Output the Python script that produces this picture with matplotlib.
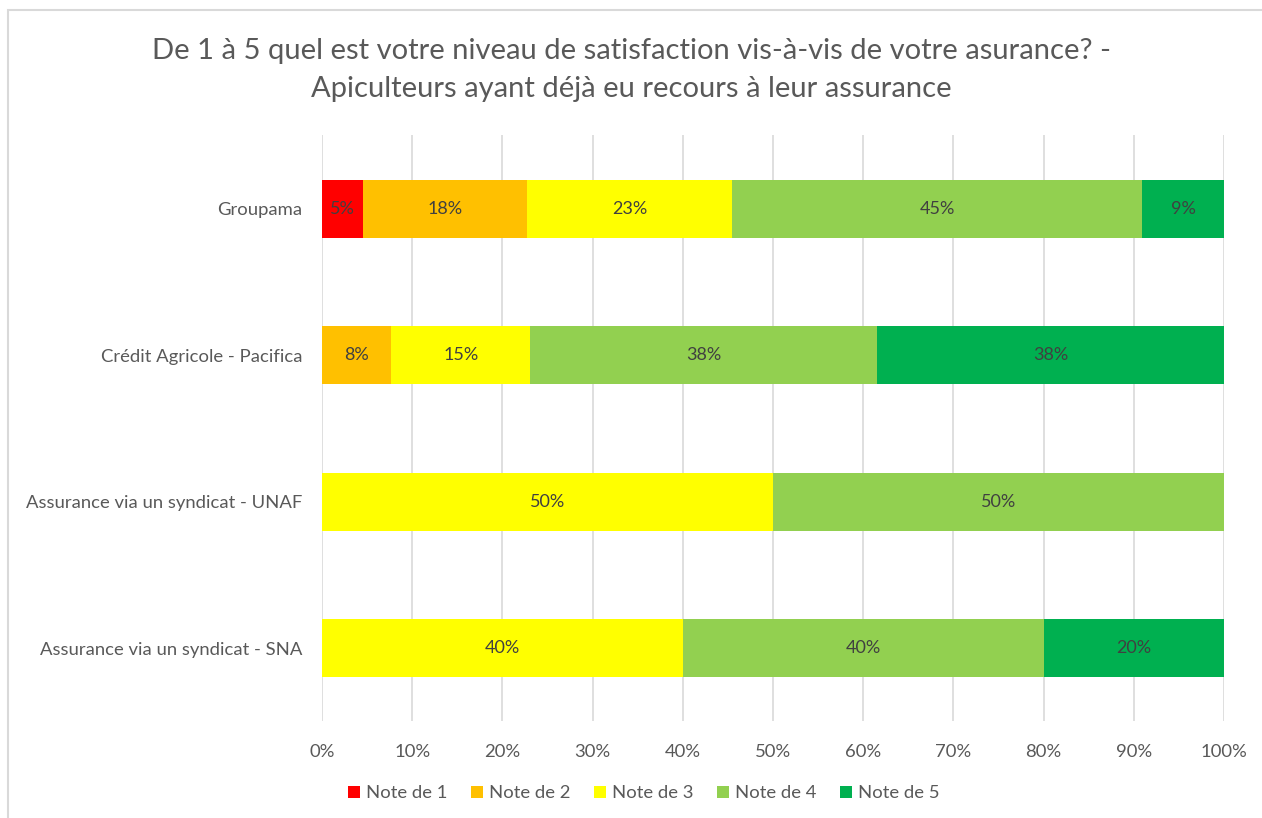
import numpy as np
import matplotlib.pyplot as plt
from matplotlib.patches import Rectangle

# Données (% par assureur et par note)
assureurs = ['Groupama', 'Crédit Agricole - Pacifica',
             'Assurance via un syndicat - UNAF', 'Assurance via un syndicat - SNA']
notes = ['Note de 1', 'Note de 2', 'Note de 3', 'Note de 4', 'Note de 5']
note1 = [4.55, 0, 0, 0]
note2 = [18.18, 7.69, 0, 0]
note3 = [22.73, 15.38, 50.0, 40.0]
note4 = [45.45, 38.46, 50.0, 40.0]
note5 = [9.09, 38.46, 0, 20.0]
couleurs = ['#ff0000', '#ffc000', '#ffff00', '#92d050', '#00b050']

gris = '#595959'
plt.rcParams['font.family'] = ['Lato', 'DejaVu Sans']

fig = plt.figure(figsize=(12.62, 8.18), dpi=100)
ax = fig.add_axes([0.2552, 0.118, 0.7147, 0.7164])

y = np.arange(len(assureurs))
gauche = np.zeros(len(assureurs))
for nom, vals, c in zip(notes, [note1, note2, note3, note4, note5], couleurs):
    vals = np.array(vals)
    ax.barh(y, vals, left=gauche, height=0.395, color=c, label=nom, zorder=3)
    for yi, v, g in zip(y, vals, gauche):
        if v > 0:
            ax.text(g + v / 2, yi, f'{v:.0f}%', ha='center', va='center',
                    fontsize=13, color='#404040', zorder=4)
    gauche += vals

ax.set_xlim(0, 100)
ax.set_ylim(3.5, -0.5)
ax.set_yticks(y)
ax.set_yticklabels(assureurs, fontsize=13.3, color=gris)
ax.set_xticks(np.arange(0, 101, 10))
ax.set_xticklabels([f'{t}%' for t in range(0, 101, 10)], fontsize=13.3, color=gris)
ax.tick_params(length=0)
ax.tick_params(axis='x', pad=16)
ax.tick_params(axis='y', pad=14)
ax.grid(axis='x', color='#d9d9d9', linewidth=1.2, zorder=0)
for s in ax.spines.values():
    s.set_visible(False)

fig.suptitle('De 1 à 5 quel est votre niveau de satisfaction vis-à-vis de votre asurance? -\n'
             'Apiculteurs ayant déjà eu recours à leur assurance',
             y=0.953, fontsize=21, color=gris, linespacing=1.55)

fig.legend(loc='center', bbox_to_anchor=(0.51, 0.03), ncol=5, frameon=False,
           fontsize=13.3, labelcolor=gris, handlelength=0.65, handleheight=0.65,
           handletextpad=0.3, columnspacing=1.3)

fig.patches.append(Rectangle((0.006, -0.01), 1.0, 0.998, transform=fig.transFigure,
                             fill=False, edgecolor='#d9d9d9', linewidth=1.5))

fig.savefig('out.png', dpi=100)
